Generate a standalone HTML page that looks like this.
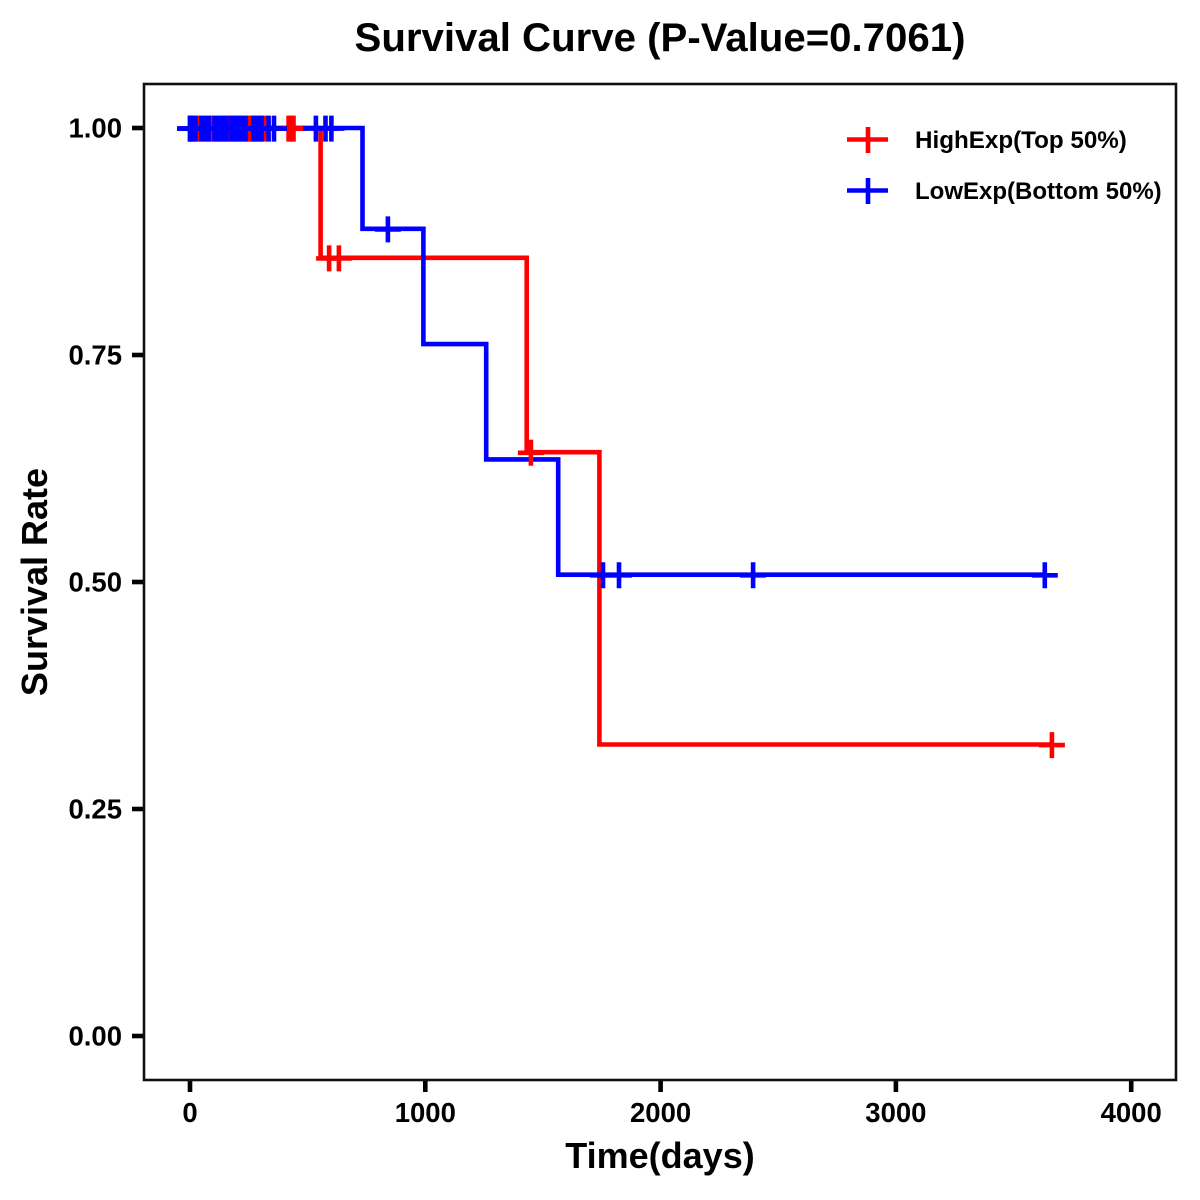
<!DOCTYPE html>
<html>
<head>
<meta charset="utf-8">
<title>Survival Curve</title>
<style>
html,body{margin:0;padding:0;background:#fff}
svg{display:block}
text{font-family:"Liberation Sans",Arial,sans-serif;font-weight:bold;fill:#000}
</style>
</head>
<body>
<svg id="chart" xmlns="http://www.w3.org/2000/svg" width="1200" height="1200" viewBox="0 0 1200 1200">
  <rect x="0" y="0" width="1200" height="1200" fill="#fff"/>
  <text x="660" y="51" font-size="40.2" text-anchor="middle">Survival Curve (P-Value=0.7061)</text>
  <text x="660" y="1168" font-size="36" text-anchor="middle">Time(days)</text>
  <text transform="translate(47,582) rotate(-90)" font-size="36" text-anchor="middle">Survival Rate</text>
  <g id="series-layer"></g>
  <g id="axis-layer"></g>
  <rect x="144" y="84" width="1032" height="996" fill="none" stroke="#111" stroke-width="2.6"/>
  <g>
    <g>
      <path d="M847 139.500H888M868 127V153" stroke="#f00" stroke-width="4.600" fill="none"/>
      <text x="915" y="148" font-size="24.2">HighExp(Top 50%)</text>
    </g>
    <g>
      <path d="M847 190.500H888M868 178V204" stroke="#00f" stroke-width="4.600" fill="none"/>
      <text x="915" y="199" font-size="24">LowExp(Bottom 50%)</text>
    </g>
  </g>
</svg>
<script>
const xTicks = [0, 1000, 2000, 3000, 4000];
const yTicks = [0, 0.25, 0.5, 0.75, 1];
const yTickLabels = ["0.00", "0.25", "0.50", "0.75", "1.00"];

const highEventTimes = [555, 1431, 1740];
const highEventSurvival = [0.857, 0.643, 0.321];
const highCensorTimes = [0, 36, 91, 166, 249, 257, 317, 419, 429, 440, 591, 633, 1449, 3663];

const lowEventTimes = [733, 992, 1259, 1565];
const lowEventSurvival = [0.889, 0.762, 0.635, 0.508];
const lowCensorTimes = [0, 4, 15, 23, 49, 64, 79, 104, 115, 127, 140, 155, 176, 187, 200, 212, 225, 236, 270, 280, 293, 304, 334, 357, 535, 576, 601, 841, 1755, 1823, 2393, 3633];

const NS = 'http://www.w3.org/2000/svg';
function xScale(t) { return 190 + t * 0.2353; }
function yScale(s) { return 1036 - s * 908; }

function survivalAt(t, times, values) {
  let s = 1;
  for (let i = 0; i < times.length; i++) {
    if (t >= times[i]) s = values[i];
  }
  return s;
}

function stepPath(times, values, censors) {
  const end = Math.max.apply(null, censors);
  let s = 1;
  let d = 'M' + xScale(0) + ' ' + yScale(1);
  for (let i = 0; i < times.length; i++) {
    d += 'H' + xScale(times[i]).toFixed(1);
    s = values[i];
    d += 'V' + yScale(s).toFixed(1);
  }
  d += 'H' + xScale(end).toFixed(1);
  return d;
}

const seriesLayer = document.getElementById('series-layer');
const axisLayer = document.getElementById('axis-layer');

function drawLine(times, values, censors, color, name) {
  const p = document.createElementNS(NS, 'path');
  
  
  p.setAttribute('d', stepPath(times, values, censors));
  p.setAttribute('fill', 'none');
  p.setAttribute('stroke', color);
  p.setAttribute('stroke-width', '4.6');
  p.setAttribute('stroke-linejoin', 'miter');
  seriesLayer.appendChild(p);
}

function drawCensors(times, values, censors, color, name) {
  censors.forEach(function (t) {
    const cx = xScale(t);
    const cy = yScale(survivalAt(t, times, values)) + 0.6;
    const m = document.createElementNS(NS, 'path');
    
    
    m.setAttribute('d', 'M' + (cx - 13).toFixed(1) + ' ' + cy.toFixed(1) + 'H' + (cx + 13).toFixed(1) +
      'M' + cx.toFixed(1) + ' ' + (cy - 13).toFixed(1) + 'V' + (cy + 13).toFixed(1));
    m.setAttribute('fill', 'none');
    m.setAttribute('stroke', color);
    m.setAttribute('stroke-width', '4.6');
    seriesLayer.appendChild(m);
  });
}

drawLine(highEventTimes, highEventSurvival, highCensorTimes, '#f00', 'high-exp-curve');
drawLine(lowEventTimes, lowEventSurvival, lowCensorTimes, '#00f', 'low-exp-curve');
drawCensors(highEventTimes, highEventSurvival, highCensorTimes, '#f00', 'high-exp-censor-mark');
drawCensors(lowEventTimes, lowEventSurvival, lowCensorTimes, '#00f', 'low-exp-censor-mark');

xTicks.forEach(function (t) {
  const x = xScale(t);
  const tick = document.createElementNS(NS, 'line');
  
  
  tick.setAttribute('x1', x);
  tick.setAttribute('x2', x);
  tick.setAttribute('y1', 1080);
  tick.setAttribute('y2', 1092);
  tick.setAttribute('stroke', '#000');
  tick.setAttribute('stroke-width', '4.6');
  axisLayer.appendChild(tick);
  const label = document.createElementNS(NS, 'text');
  
  
  label.setAttribute('x', x);
  label.setAttribute('y', 1122);
  label.setAttribute('font-size', '27.5');
  label.setAttribute('text-anchor', 'middle');
  label.textContent = String(t);
  axisLayer.appendChild(label);
});

yTicks.forEach(function (s, i) {
  const y = yScale(s);
  const tick = document.createElementNS(NS, 'line');
  
  
  tick.setAttribute('x1', 132);
  tick.setAttribute('x2', 144);
  tick.setAttribute('y1', y);
  tick.setAttribute('y2', y);
  tick.setAttribute('stroke', '#000');
  tick.setAttribute('stroke-width', '4.6');
  axisLayer.appendChild(tick);
  const label = document.createElementNS(NS, 'text');
  
  
  label.setAttribute('x', 122);
  label.setAttribute('y', y + 9.5);
  label.setAttribute('font-size', '27.5');
  label.setAttribute('text-anchor', 'end');
  label.textContent = yTickLabels[i];
  axisLayer.appendChild(label);
});
</script>
</body>
</html>
